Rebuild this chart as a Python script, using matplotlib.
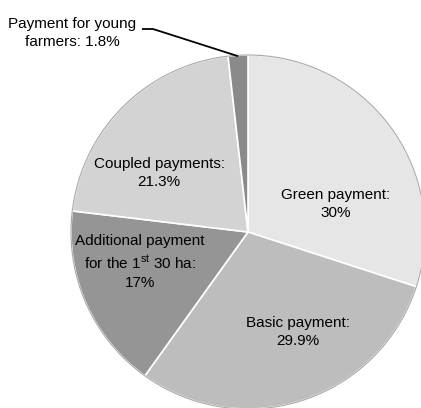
import numpy as np
import matplotlib
matplotlib.use("Agg")
import matplotlib.pyplot as plt

plt.rcParams['font.family'] = ['Liberation Sans', 'DejaVu Sans']
plt.rcParams['mathtext.fontset'] = 'custom'
plt.rcParams['mathtext.rm'] = 'Liberation Sans'

# data, clockwise from 12 o'clock
labels = ["Green payment:\n30%",
          "Basic payment:\n29.9%",
          "Additional payment\nfor the 1$^{\\mathrm{st}}$ 30 ha:\n17%",
          "Coupled payments:\n21.3%",
          "Payment for young\nfarmers: 1.8%"]
shares = [30, 29.9, 17, 21.3, 1.8]
colors = ["#e6e6e6", "#bdbdbd", "#959595", "#d3d3d3", "#8a8a8a"]
explode = [0, 0, 0, 0, 0.015]

# label centres in picture pixels (x from left, y from top)
label_px = [(336, 204), (298, 332), (140, 262), (159, 173), (72, 33)]

W, H = 421, 408
fig = plt.figure(figsize=(W / 100, H / 100), dpi=100)
ax = fig.add_axes([0, 0, 1, 1])

cx, cy, r = 248, H - 232, 177
wedges, _ = ax.pie(shares, colors=colors, startangle=90, counterclock=False,
                   explode=explode, center=(cx, cy), radius=r,
                   wedgeprops=dict(edgecolor='white', linewidth=1.2))

ax.set_xlim(0, W)
ax.set_ylim(0, H)
ax.set_aspect('equal')
ax.axis('off')

# soft outline round the pie
ring = plt.Circle((cx, cy), r, fill=False, edgecolor='#a8a8a8', linewidth=0.8)
ax.add_patch(ring)

for lab, (px, py) in zip(labels, label_px):
    ax.text(px, H - py, lab, ha='center', va='center', fontsize=11,
            color='black', linespacing=1.4)

# leader line for the small slice
w = wedges[-1]
mid = np.deg2rad((w.theta1 + w.theta2) / 2)
ex = cx + r * 0.995 * np.cos(mid)
ey = cy + r * 0.995 * np.sin(mid)
ax.plot([142, 153, ex], [H - 29, H - 29, ey], color='black', linewidth=1.3,
        solid_capstyle='butt')

fig.savefig("out.png", dpi=100)
